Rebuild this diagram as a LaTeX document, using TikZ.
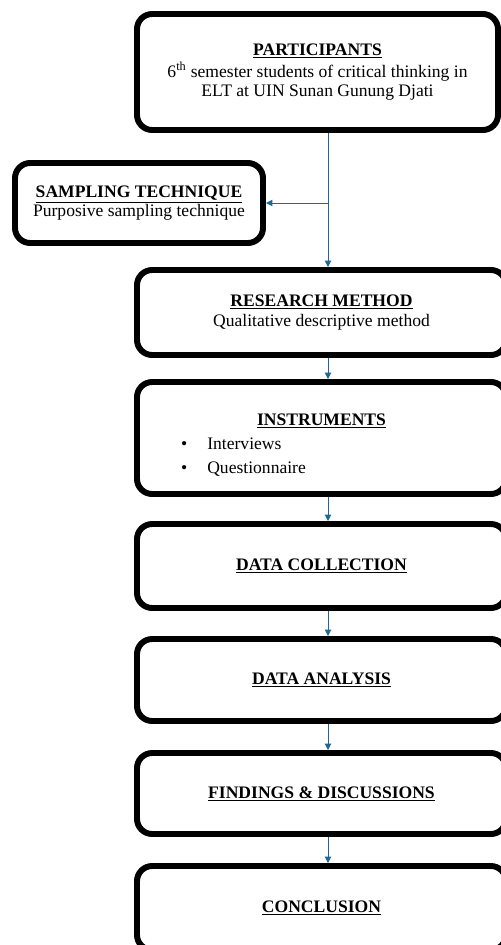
\documentclass[tikz,border=0pt]{standalone}
\usepackage{fontspec}
\setmainfont{Liberation Serif}
\usetikzlibrary{arrows.meta, positioning, calc}
\definecolor{flow}{RGB}{31,104,146}

\begin{document}
\begin{tikzpicture}[
  x=0.03cm, y=-0.03cm,
  every node/.style={font=\fontsize{15}{16.5}\selectfont},
  stage/.style={draw=black, line width=5.1pt, rounded corners=13pt,
                fill=white, align=center, inner sep=0pt},
  mainbox/.style={stage, minimum width=11.07cm},
  link/.style={draw=flow, line width=0.8pt,
               -{Triangle[length=5.5pt, width=5.5pt]}}
]
\useasboundingbox (0,0) rectangle (501,945);

\node[stage, minimum width=10.83cm, minimum height=3.48cm]
  (part) at (317.5,72)
  {\underline{\textbf{PARTICIPANTS}}\\[2pt]
   6\textsuperscript{th} semester students of critical thinking in\\
   ELT at UIN Sunan Gunung Djati};

\node[stage, minimum width=7.44cm, minimum height=2.4cm]
  (samp) at (139,203)
  {\underline{\textbf{SAMPLING TECHNIQUE}}\\
   Purposive sampling technique};

\node[mainbox, minimum height=2.55cm] (meth) at (321.5,312.5)
  {\underline{\textbf{RESEARCH METHOD}}\\
   Qualitative descriptive method};

\node[mainbox, minimum height=3.36cm] (inst) at (321.5,438) {};
\node (instTitle) at (321.5,421) {\underline{\textbf{INSTRUMENTS}}};
\node[anchor=base west, inner sep=0pt] (instList) at (181,449)
  {\begin{tabular}[t]{@{}l@{\hspace{17pt}}l@{}}
     \textbullet & Interviews\\[4pt]
     \textbullet & Questionnaire
   \end{tabular}};

\node[mainbox, minimum height=2.52cm] (coll) at (321.5,566)
  {\underline{\textbf{DATA COLLECTION}}};
\node[mainbox, minimum height=2.46cm] (anal) at (321.5,680)
  {\underline{\textbf{DATA ANALYSIS}}};
\node[mainbox, minimum height=2.43cm] (find) at (321.5,793.5)
  {\underline{\textbf{FINDINGS \& DISCUSSIONS}}};
\node[mainbox, minimum height=2.52cm] (conc) at (321.5,908)
  {\underline{\textbf{CONCLUSION}}};

% Connectors
\coordinate (spine) at (328,0);
\draw[link] (part.south -| spine) -- (meth.north -| spine);
\draw[link] (spine |- samp.east) -- (samp.east);
\foreach \a/\b in {meth/inst, inst/coll, coll/anal, anal/find, find/conc}
  \draw[link] (\a.south -| spine) -- (\b.north -| spine);

\end{tikzpicture}
\end{document}
